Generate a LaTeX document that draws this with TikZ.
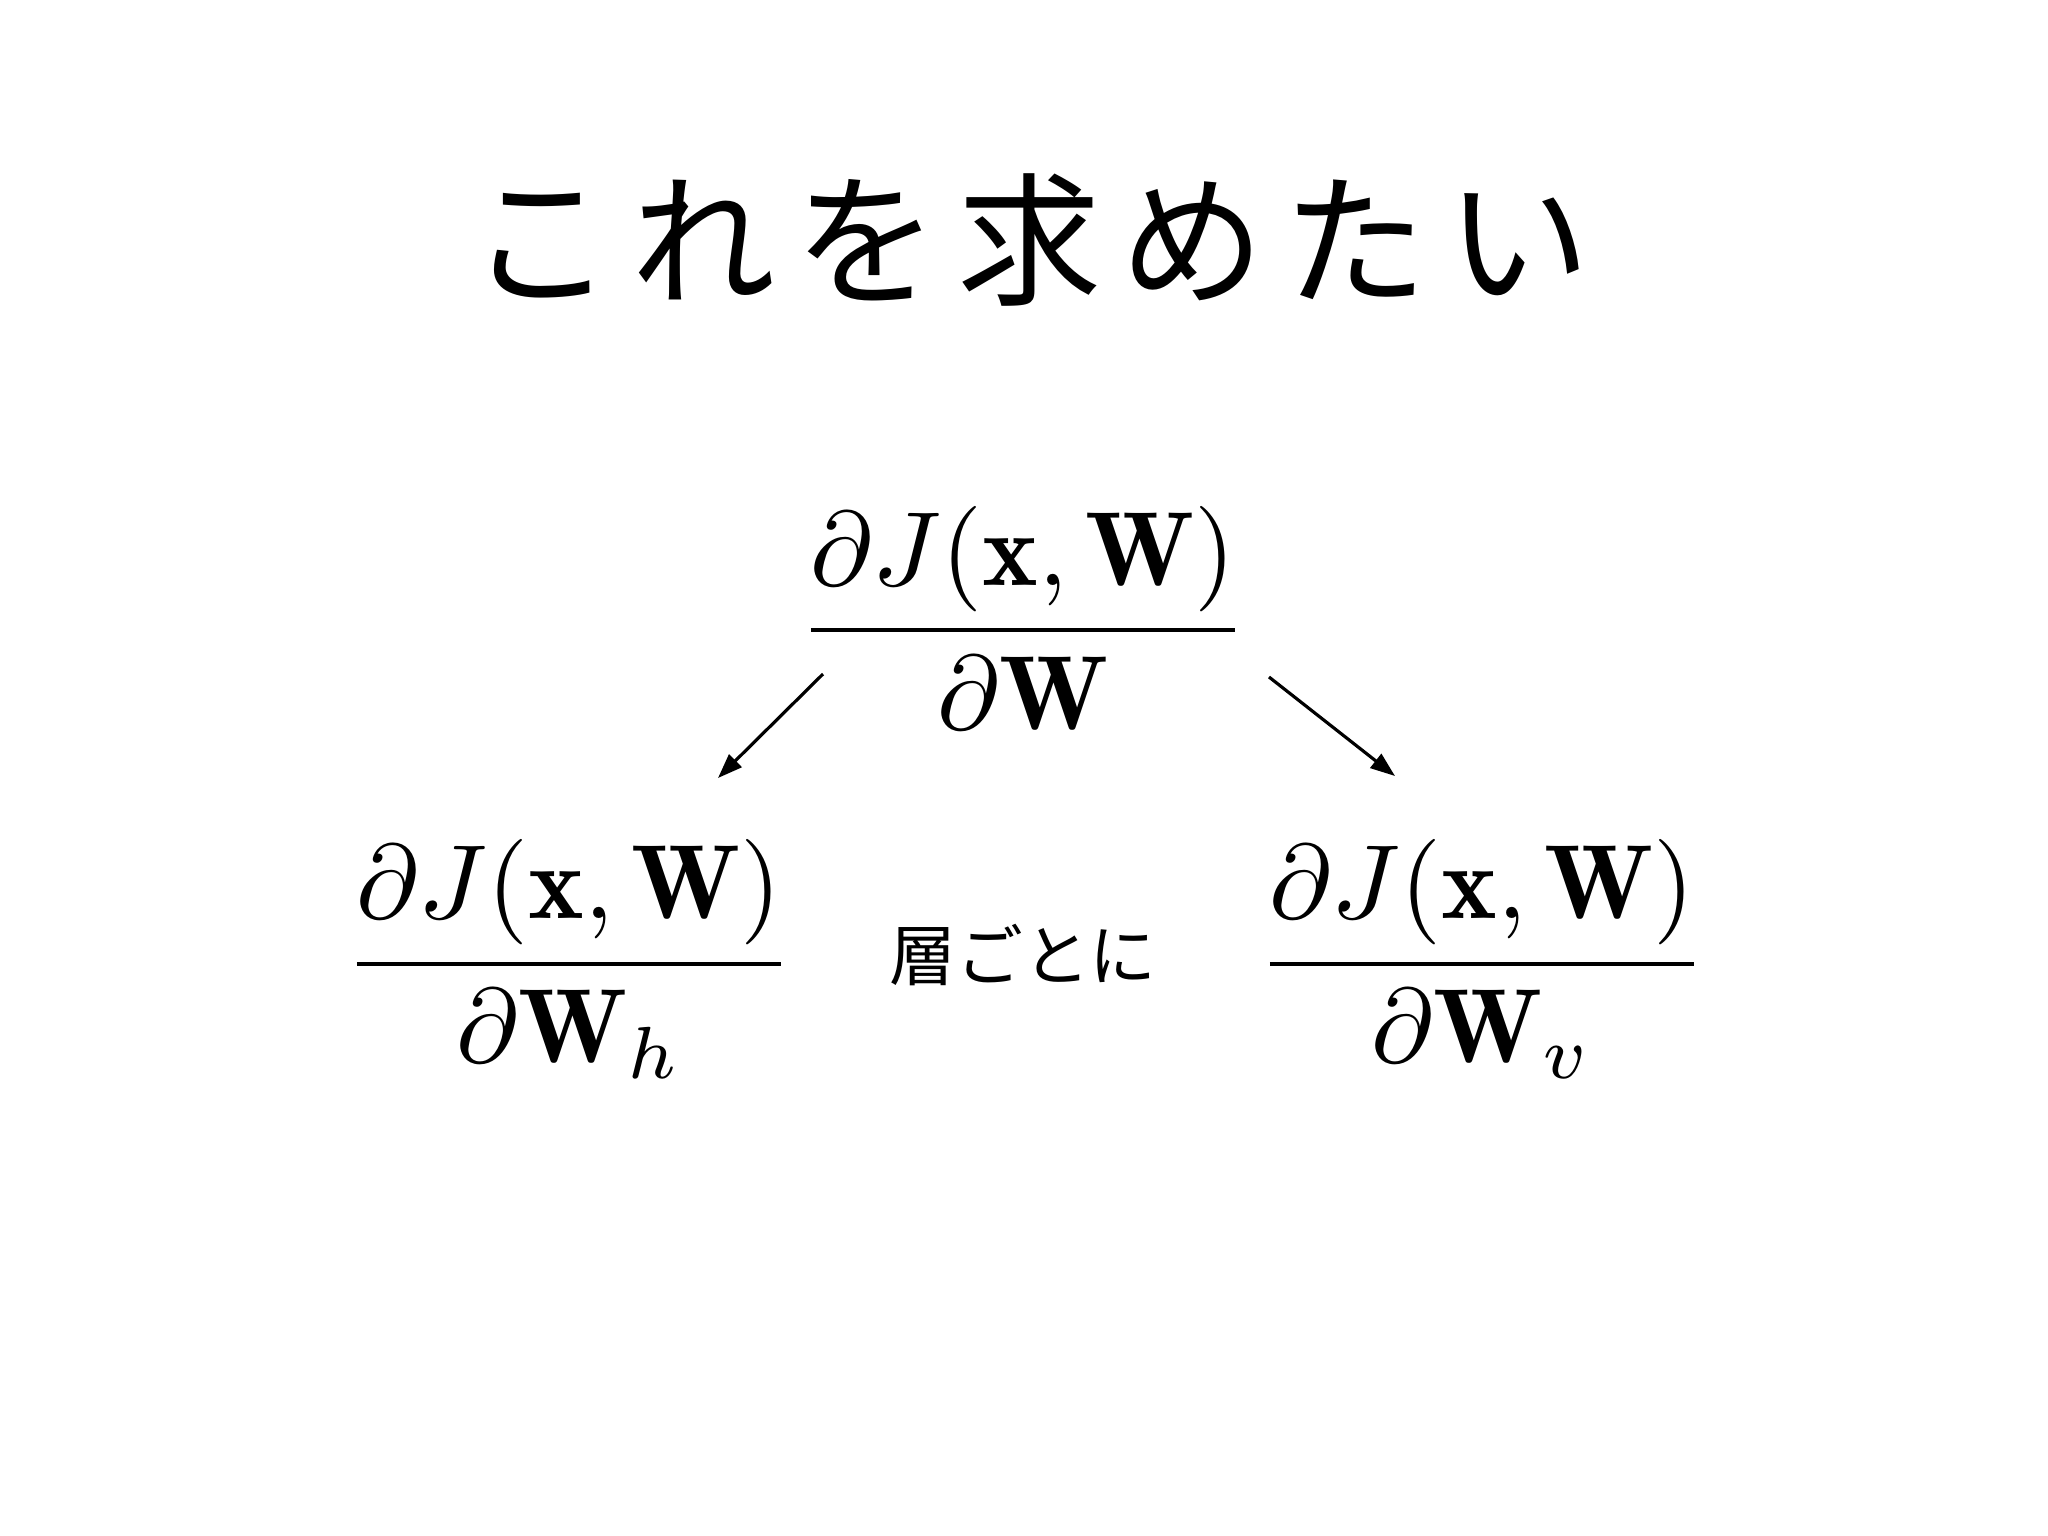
\documentclass[tikz,border=0pt]{standalone}
\usepackage{amsmath}
\usepackage{graphicx}
\usepackage{fontspec}
\newfontfamily\cjk{Noto Sans CJK JP}
\newfontfamily\cjkt[LetterSpace=13]{Noto Sans CJK JP}
\usetikzlibrary{arrows.meta}
\newcommand{\bigfrac}[1]{\scalebox{3.0}{$\displaystyle #1$}}
\tikzset{frac/.style={inner sep=0pt},
 arr/.style={-{Triangle[length=7pt,width=5pt]},line width=0.9pt}}
\begin{document}
\begin{tikzpicture}[x=0.01cm,y=-0.01cm]
\useasboundingbox[fill=white] (0,0) rectangle (2048,1536);
\node (title) at (1030,240) {\cjkt\fontsize{41}{48}\selectfont これを求めたい};
\node[frac] (top) at (1023,618) {\bigfrac{\frac{\partial J(\mathbf{x},\mathbf{W})}{\partial\mathbf{W}}}};
\node[frac] (left) at (569,959) {\bigfrac{\frac{\partial J(\mathbf{x},\mathbf{W})}{\partial\mathbf{W}_h}}};
\node[frac] (right) at (1482,959) {\bigfrac{\frac{\partial J(\mathbf{x},\mathbf{W})}{\partial\mathbf{W}_v}}};
\node (mid) at (1023,955) {\cjk\fontsize{19}{23}\selectfont 層ごとに};
\coordinate (a1) at (823,674); \coordinate (a2) at (718,778);
\coordinate (b1) at (1269,677); \coordinate (b2) at (1395,776);
\draw[arr] (a1) -- (a2);
\draw[arr] (b1) -- (b2);
\end{tikzpicture}
\end{document}
